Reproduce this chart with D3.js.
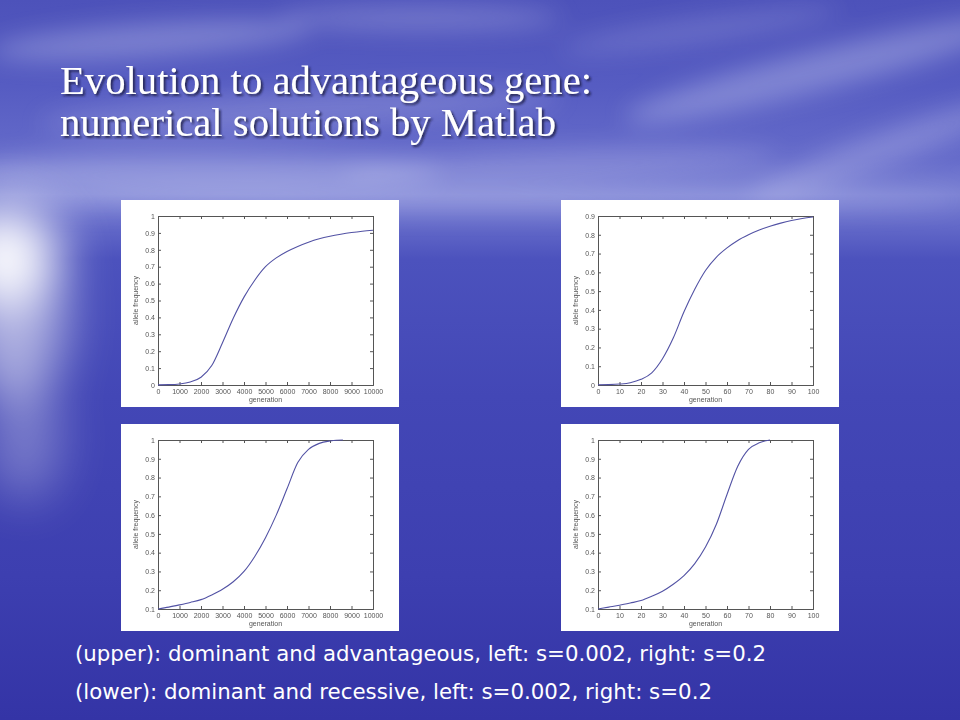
<!DOCTYPE html>
<html><head><meta charset="utf-8">
<script src="https://cdn.jsdelivr.net/npm/d3@7"></script>
<style>html,body{margin:0;padding:0;background:#4245b2;}svg{display:block;}</style>
</head><body>
<script>
// ---------- data ----------
const titleLines = ["Evolution to advantageous gene:", "numerical solutions by Matlab"];
const captions = ["(upper): dominant and advantageous, left: s=0.002, right: s=0.2",
                  "(lower): dominant and recessive, left: s=0.002, right: s=0.2"];
const xLabel = "generation";
const yLabel = "allele frequency";

const xTicksLong = [0,1000,2000,3000,4000,5000,6000,7000,8000,9000,10000];
const xTicksShort = [0,10,20,30,40,50,60,70,80,90,100];
const yTicks0to1 = [0,0.1,0.2,0.3,0.4,0.5,0.6,0.7,0.8,0.9,1];
const yTicks0to09 = [0,0.1,0.2,0.3,0.4,0.5,0.6,0.7,0.8,0.9];
const yTicks01to1 = [0.1,0.2,0.3,0.4,0.5,0.6,0.7,0.8,0.9,1];

// upper-left: dominant & advantageous, s=0.002
const ulGen  = [0,500,1000,1500,2000,2500,3000,3500,4000,4500,5000,5500,6000,6500,7000,7500,8000,8500,9000,9500,10000];
const ulFreq = [0.001,0.002,0.006,0.018,0.046,0.115,0.25,0.395,0.52,0.62,0.70,0.752,0.79,0.82,0.845,0.865,0.88,0.892,0.902,0.91,0.916];
// upper-right: s=0.2
const urGen  = [0,5,10,15,20,25,30,35,40,45,50,55,60,65,70,75,80,85,90,95,100];
const urFreq = [0.001,0.002,0.005,0.012,0.03,0.065,0.14,0.25,0.39,0.51,0.61,0.68,0.73,0.77,0.80,0.825,0.845,0.862,0.876,0.887,0.895];
// lower-left: dominant & recessive, s=0.002
const llGen  = [0,500,1000,1500,2000,2500,3000,3500,4000,4500,5000,5500,6000,6500,7000,7500,8000,8300,8600];
const llFreq = [0.1,0.11,0.122,0.135,0.15,0.175,0.205,0.245,0.30,0.38,0.48,0.60,0.74,0.88,0.95,0.982,0.995,0.999,1.0];
// lower-right: s=0.2
const lrGen  = [0,5,10,15,20,25,30,35,40,45,50,55,60,65,70,75,78,80];
const lrFreq = [0.1,0.11,0.12,0.132,0.145,0.168,0.195,0.232,0.278,0.342,0.43,0.55,0.71,0.86,0.95,0.985,0.996,1.0];

const panels = [
  {gen: ulGen, freq: ulFreq, xDom:[0,10000], yDom:[0,1],   xt: xTicksLong,  yt: yTicks0to1,  px:121, py:200},
  {gen: urGen, freq: urFreq, xDom:[0,100],   yDom:[0,0.9], xt: xTicksShort, yt: yTicks0to09, px:561, py:200},
  {gen: llGen, freq: llFreq, xDom:[0,10000], yDom:[0.1,1], xt: xTicksLong,  yt: yTicks01to1, px:121, py:424},
  {gen: lrGen, freq: lrFreq, xDom:[0,100],   yDom:[0.1,1], xt: xTicksShort, yt: yTicks01to1, px:561, py:424}
];

// ---------- drawing ----------
const W = 960, H = 720;
const svg = d3.select("body").append("svg").attr("width", W).attr("height", H);
const defs = svg.append("defs");

const bg = defs.append("linearGradient").attr("id","bg").attr("x1",0).attr("y1",0).attr("x2",0).attr("y2",1);
[[0,"#4d52ba"],[0.12,"#565cc2"],[0.22,"#656bca"],[0.27,"#7c82d4"],[0.30,"#6a70cc"],[0.36,"#4c52bd"],[0.55,"#4347b6"],[0.8,"#3d3fb0"],[1,"#3434a6"]]
  .forEach(([o,c]) => bg.append("stop").attr("offset",o).attr("stop-color",c));
svg.append("rect").attr("width",W).attr("height",H).attr("fill","url(#bg)");

const blur = defs.append("filter").attr("id","blur").attr("x","-50%").attr("y","-50%").attr("width","200%").attr("height","200%");
blur.append("feGaussianBlur").attr("stdDeviation",12);
const blur2 = defs.append("filter").attr("id","blur2").attr("x","-50%").attr("y","-50%").attr("width","200%").attr("height","200%");
blur2.append("feGaussianBlur").attr("stdDeviation",25);
const shadow = defs.append("filter").attr("id","shadow").attr("x","-10%").attr("y","-30%").attr("width","120%").attr("height","160%");
shadow.append("feDropShadow").attr("dx",2).attr("dy",2).attr("stdDeviation",1).attr("flood-color","#15153a").attr("flood-opacity",0.8);
const gray = defs.append("filter").attr("id","gray");
gray.append("feOffset").attr("dx",0).attr("dy",0);

// clouds / haze
const clouds = [
  [150,40,160,16,-4,0.3],[420,18,140,12,0,0.25],[820,70,200,20,-14,0.3],[700,30,140,10,-8,0.2],
  [300,110,260,18,-3,0.2],[880,150,140,16,-20,0.25],[560,165,220,14,-2,0.25],[200,172,240,20,0,0.3],
  [480,200,480,10,0,0.3]
];
svg.append("g").attr("filter","url(#blur)").selectAll("ellipse").data(clouds).join("ellipse")
  .attr("transform", d => `translate(${d[0]},${d[1]}) rotate(${d[4]})`)
  .attr("rx", d => d[2]).attr("ry", d => d[3]).attr("fill","#e6e8fb").attr("opacity", d => d[5]);

// left sea glow
const glow = [[5,255,55,50,0.95],[15,320,50,80,0.55],[25,440,35,60,0.3]];
svg.append("g").attr("filter","url(#blur2)").selectAll("ellipse").data(glow).join("ellipse")
  .attr("cx", d => d[0]).attr("cy", d => d[1]).attr("rx", d => d[2]).attr("ry", d => d[3])
  .attr("fill","#ffffff").attr("opacity", d => d[4]);

// title
const titleWidths = [532, 496];
titleLines.forEach((t,i) => {
  svg.append("text").attr("x",60).attr("y",94 + i*42).text(t)
    .attr("font-family","'Liberation Serif','DejaVu Serif',serif").attr("font-size",39)
    .attr("textLength", titleWidths[i]).attr("lengthAdjust","spacingAndGlyphs")
    .attr("fill","#ffffff").attr("filter","url(#shadow)");
});

// panels
const PW = 278, PH = 207;
const ax = {l:37, r:252, t:16, b:185};
const fmt = d => String(+d.toFixed(1));
const sans = "'Liberation Sans',Arial,sans-serif";

panels.forEach(p => {
  const g = svg.append("g").attr("transform",`translate(${p.px},${p.py})`);
  g.append("rect").attr("width",PW).attr("height",PH).attr("fill","#ffffff");
  const x = d3.scaleLinear().domain(p.xDom).range([ax.l, ax.r]);
  const y = d3.scaleLinear().domain(p.yDom).range([ax.b, ax.t]);
  const ag = g.append("g").attr("filter","url(#gray)");
  const xb = ag.append("g").attr("transform",`translate(0,${ax.b})`)
    .call(d3.axisBottom(x).tickValues(p.xt).tickSize(-3).tickPadding(4).tickFormat(fmt));
  const xt = ag.append("g").attr("transform",`translate(0,${ax.t})`)
    .call(d3.axisTop(x).tickValues(p.xt).tickSize(-3).tickFormat(""));
  const yl = ag.append("g").attr("transform",`translate(${ax.l},0)`)
    .call(d3.axisLeft(y).tickValues(p.yt).tickSize(-3).tickPadding(3).tickFormat(fmt));
  const yr = ag.append("g").attr("transform",`translate(${ax.r},0)`)
    .call(d3.axisRight(y).tickValues(p.yt).tickSize(-3).tickFormat(""));
  [xb,xt,yl,yr].forEach(a => {
    a.select(".domain").attr("stroke","#555").attr("stroke-width",1);
    a.selectAll(".tick line").attr("stroke","#555");
    a.selectAll("text").attr("fill","#555").attr("font-family",sans).attr("font-size",7);
  });
  ag.append("text").attr("x",(ax.l+ax.r)/2).attr("y",ax.b+17).attr("text-anchor","middle")
    .attr("font-family",sans).attr("font-size",7).attr("fill","#555").text(xLabel);
  ag.append("text").attr("transform",`translate(${ax.l-20},${(ax.t+ax.b)/2}) rotate(-90)`).attr("text-anchor","middle")
    .attr("font-family",sans).attr("font-size",7).attr("fill","#555").text(yLabel);
  const data = p.gen.map((v,i) => [v, p.freq[i]]);
  g.append("path").datum(data)
    .attr("d", d3.line().x(d => x(d[0])).y(d => y(d[1])).curve(d3.curveMonotoneX))
    .attr("fill","none").attr("stroke","#5252a4").attr("stroke-width",1.1);
});

// captions
const capWidths = [691, 637];
captions.forEach((c,i) => {
  svg.append("text").attr("x",75).attr("y",661 + i*38).text(c)
    .attr("font-family","'DejaVu Sans Condensed','DejaVu Sans',Tahoma,sans-serif").attr("font-size",21)
    .attr("textLength", capWidths[i]).attr("lengthAdjust","spacingAndGlyphs")
    .attr("fill","#ffffff");
});
</script>
</body></html>
